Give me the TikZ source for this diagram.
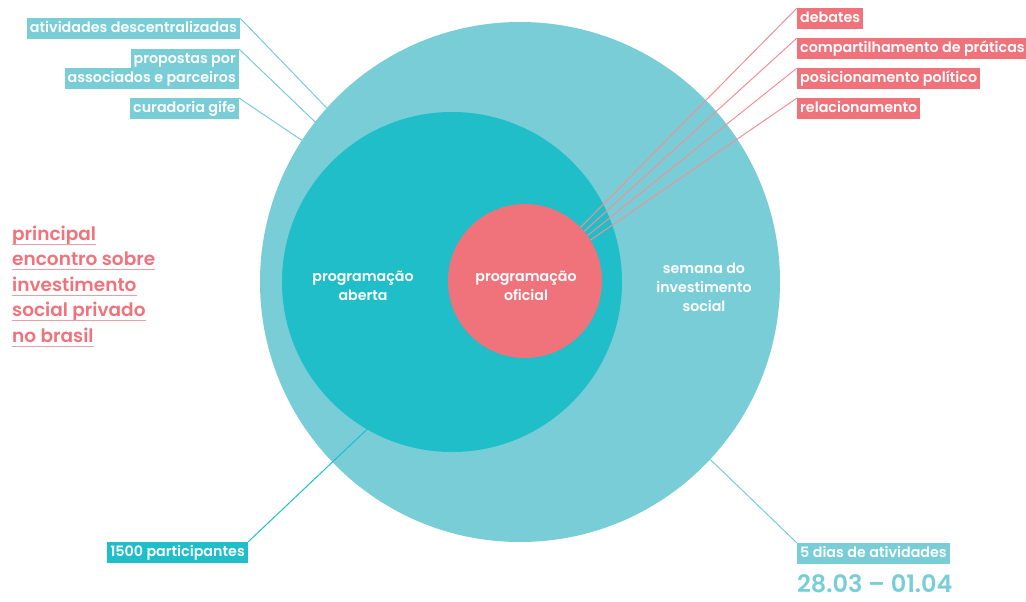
\documentclass[tikz,border=0pt]{standalone}
\usepackage{fontspec}
\setmainfont{Poppins}[BoldFont={Poppins SemiBold}]
\usetikzlibrary{positioning}

\definecolor{ringlight}{HTML}{78CDD7}
\definecolor{ringdark}{HTML}{1FBEC8}
\definecolor{coral}{HTML}{F0737C}
\definecolor{pinkline}{HTML}{E8A0A8}

\tikzset{
  tagbox/.style={fill=#1, text=white, inner xsep=3pt, inner ysep=4pt,
    text height=10pt, text depth=3pt, font=\bfseries\fontsize{14.3}{15}\selectfont},
  circtext/.style={text=white, align=center, font=\bfseries\fontsize{14.2}{19}\selectfont},
  pinkword/.style={text=coral, inner sep=0pt, anchor=base west, text depth=4pt,
    font=\bfseries\fontsize{18.5}{20}\selectfont},
}

\begin{document}
\begin{tikzpicture}[x=1pt, y=-1pt]
        \useasboundingbox (0,0) rectangle (1026,602);

        % circles
        \node[circle, fill=ringlight, minimum size=520pt, inner sep=0pt] (outer) at (520,282) {};
        \node[circle, fill=ringdark, minimum size=340pt, inner sep=0pt] (mid) at (452,282) {};
        \node[circle, fill=coral, minimum size=154pt, inner sep=0pt] (inner) at (525,281) {};

        % circle texts
        \node[circtext] (aberta) at (363,286) {programação\\aberta};
        \node[circtext] (oficial) at (526,286) {programação\\oficial};
        \node[circtext] (semana) at (704,287) {semana do\\investimento\\social};

        % left labels
        \node[tagbox=ringlight, anchor=north east] (ativ) at (240,18) {atividades descentralizadas};
        \node[tagbox=ringlight, anchor=north east] (prop) at (239,49) {propostas por};
        \node[tagbox=ringlight, anchor=north east] (assoc) at (239,68) {associados e parceiros};
        \node[tagbox=ringlight, anchor=north east] (cura) at (239,98) {curadoria gife};

        % right labels
        \node[tagbox=coral, anchor=north west] (deb) at (797,8) {debates};
        \node[tagbox=coral, anchor=north west] (comp) at (797,38) {compartilhamento de práticas};
        \node[tagbox=coral, anchor=north west] (pos) at (797,68) {posicionamento político};
        \node[tagbox=coral, anchor=north west] (rel) at (797,98) {relacionamento};

        % bottom labels
        \node[tagbox=ringdark, anchor=north east] (part) at (248,542) {1500 participantes};
        \node[tagbox=ringlight, anchor=north west] (dias) at (797,543) {5 dias de atividades};
        \node[text=ringlight, anchor=north west, inner sep=0pt, font=\bfseries\fontsize{24}{26}\selectfont] (datas) at (797,574) {28.03 -- 01.04};

        % pink text
        \foreach \t [count=\i] in {principal, encontro sobre, investimento, social privado, no brasil} {
          \node[pinkword] (pk\i) at (12,{240+25.5*(\i-1)}) {\t};
          \draw[pinkline, line width=1.2pt] (pk\i.south west) -- (pk\i.south east);
        }

        % teal connectors
        \draw[ringlight, line width=1pt] (ativ.north east) -- (outer.138);
        \draw[ringlight, line width=1pt] (prop.north east) -- (outer.142);
        \draw[ringlight, line width=1pt] (cura.north east) -- (outer.147);
        \draw[ringdark, line width=1pt] (part.north east) -- (mid.240);
        \draw[ringlight, line width=1pt] (dias.north west) -- (outer.317);

        % coral connectors
        \draw[coral!80, line width=1pt] (deb.north west) -- (inner.44);
        \draw[coral!80, line width=1pt] (comp.north west) -- (inner.40);
        \draw[coral!80, line width=1pt] (pos.north west) -- (inner.36);
        \draw[coral!80, line width=1pt] (rel.north west) -- (inner.32);
    \end{tikzpicture}
\end{document}
